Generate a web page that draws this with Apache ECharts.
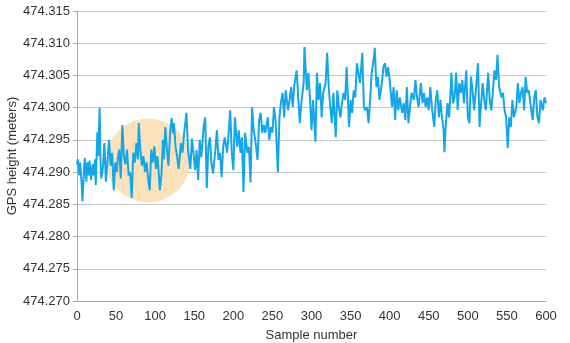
<!DOCTYPE html>
<html>
<head>
<meta charset="utf-8">
<script src="https://cdn.jsdelivr.net/npm/echarts@6/dist/echarts.min.js"></script>
<style>
html,body{margin:0;padding:0;background:#fff;}
#chart{width:570px;height:343px;}
</style>
</head>
<body>
<div id="chart"></div>
<script>
// Sample numbers (x)
const samples = [
0,1,3,4,6,7,9,10,12,13,15,16,18,20,21,23,24,26,27,29,30,31,33,35,37,39,41,43,45,47,49,51,52,54,56,58,60,62,64,66,68,70,72,74,76,78,79,81,83,85,87,89,91,93,95,97,99,101,103,106,108,110,111,113,115,117,119,121,123,124,126,128,130,131,133,135,137,140,142,144,145,146,147,149,
151,153,155,157,159,162,164,166,168,170,172,174,177,179,181,183,185,187,189,192,194,196,198,200,202,205,207,209,211,213,215,218,220,222,224,226,228,231,233,235,237,239,241,244,246,248,250,252,254,257,259,261,263,265,267,270,272,274,276,278,281,283,285,287,290,291,294,296,298,
300,302,305,307,309,311,313,315,318,320,322,324,326,328,331,333,335,337,339,341,343,345,348,350,352,354,356,358,360,362,365,367,369,371,373,375,377,380,381,383,385,387,390,392,394,396,398,
400,403,405,407,409,411,413,416,418,420,422,424,426,428,431,433,435,437,439,440,442,444,446,448,450,452,454,457,459,461,463,465,467,469,470,472,474,476,478,479,481,483,485,487,489,491,493,495,498,
500,502,504,506,508,511,513,515,517,519,521,523,526,528,530,532,534,536,538,540,543,545,547,549,551,553,555,557,559,562,564,566,568,570,572,574,576,578,580,583,585,587,589,591,593,596,598,600
];
// GPS heights (meters)
const heights = [
474.2912,474.2920,474.2895,474.2915,474.2880,474.2855,474.2905,474.2922,474.2885,474.2915,474.2895,474.2918,474.2888,474.2912,474.2895,474.2920,474.2880,474.2962,474.2925,474.3000,474.2920,474.2890,474.2905,474.2945,474.2885,474.2882,474.2950,474.2910,474.2930,474.2872,474.2915,474.2900,474.2920,474.2935,474.2890,474.2973,474.2925,474.2912,474.2935,474.2895,474.2900,474.2860,474.2930,474.2915,474.2945,474.2920,474.2976,474.2935,474.2910,474.2925,474.2900,474.2915,474.2890,474.2872,474.2935,474.2915,474.2940,474.2905,474.2925,474.2872,474.2895,474.2950,474.2920,474.2970,474.2935,474.2910,474.2958,474.2984,474.2960,474.2976,474.2940,474.2925,474.2905,474.2903,474.2945,474.2930,474.2960,474.2992,474.2935,474.2914,474.2905,474.2906,474.2952,474.2930,
474.2903,474.2934,474.2888,474.2950,474.2923,474.2970,474.2985,474.2875,474.2939,474.2954,474.2914,474.2898,474.2934,474.2965,474.2919,474.2930,474.2892,474.2939,474.2954,474.2930,474.2961,474.2996,474.2930,474.2903,474.2985,474.2939,474.2965,474.2930,474.2954,474.2869,474.2961,474.2930,474.2939,474.2884,474.3001,474.2965,474.2950,474.2919,474.2981,474.2992,474.2961,474.2973,474.2961,474.2985,474.2950,474.2970,474.2961,474.3001,474.2981,474.2900,474.2985,474.3009,474.3023,474.2985,474.3027,474.2996,474.3012,474.3032,474.3001,474.3035,474.3058,474.3016,474.2976,474.3007,474.3040,474.3094,474.3027,474.3054,474.3016,
474.2965,474.3012,474.2947,474.3054,474.3012,474.3038,474.2985,474.3023,474.3038,474.3085,474.3032,474.3001,474.2976,474.3023,474.2954,474.3027,474.3001,474.2985,474.3007,474.3023,474.3012,474.3063,474.2970,474.3012,474.2992,474.3027,474.3016,474.3069,474.3054,474.3038,474.3085,474.3001,474.2996,474.3001,474.2976,474.3012,474.3054,474.3079,474.3093,474.3032,474.3048,474.3012,474.3038,474.3063,474.3069,474.3048,474.3063,
474.3043,474.3001,474.3032,474.2981,474.3027,474.2996,474.3016,474.2992,474.3007,474.2981,474.3032,474.2976,474.3001,474.3023,474.3012,474.3043,474.3016,474.3001,474.3027,474.3038,474.3007,474.3023,474.3001,474.3016,474.2996,474.3032,474.3001,474.2970,474.3012,474.3027,474.2985,474.3012,474.2985,474.2965,474.2931,474.2976,474.3007,474.2985,474.3027,474.3054,474.3007,474.3016,474.3054,474.2996,474.3038,474.3023,474.3043,474.3007,474.3058,
474.2985,474.2976,474.3048,474.3027,474.2996,474.3038,474.3069,474.2970,474.3007,474.3038,474.3012,474.2996,474.3054,474.3012,474.2996,474.3023,474.3058,474.3043,474.3082,474.3032,474.3016,474.3023,474.2996,474.2985,474.2937,474.2985,474.2970,474.3012,474.2985,474.3001,474.3038,474.3007,474.3023,474.3032,474.2996,474.3048,474.3023,474.3027,474.3007,474.2981,474.3016,474.3027,474.2985,474.2976,474.3012,474.2996,474.3016,474.3007
];
// Highlight circle centre [sample, height]
const circleCenter = [91, 474.2918];
const yTicks = { min: 474.270, max: 474.315, step: 0.005 };
const xTicks = { min: 0, max: 600, step: 50 };

const chart = echarts.init(document.getElementById('chart'), null, {renderer: 'canvas'});
const font = 'Liberation Sans, Arial, Helvetica, sans-serif';
chart.setOption({
  animation: false,
  grid: { left: 77, right: 24, top: 11, bottom: 42, containLabel: false, outerBoundsMode: 'none' },
  xAxis: {
    type: 'value', min: xTicks.min, max: xTicks.max, interval: xTicks.step,
    name: 'Sample number', nameLocation: 'middle', nameGap: 28, nameMoveOverlap: false,
    nameTextStyle: { fontFamily: font, fontSize: 13, color: '#333' },
    axisLine: { lineStyle: { color: '#aaa' } },
    axisTick: { show: false },
    axisLabel: { fontFamily: font, fontSize: 13, color: '#333', margin: 9 },
    splitLine: { show: false }
  },
  yAxis: {
    type: 'value', min: yTicks.min, max: yTicks.max, interval: yTicks.step,
    name: 'GPS height (meters)', nameLocation: 'middle', nameGap: 58, nameMoveOverlap: false,
    nameTextStyle: { fontFamily: font, fontSize: 13, color: '#333' },
    axisLine: { show: true, lineStyle: { color: '#aaa' } },
    axisTick: { show: true, length: 4, lineStyle: { color: '#aaa' } },
    axisLabel: { fontFamily: font, fontSize: 13, color: '#333', margin: 7,
      formatter: v => v.toFixed(3) },
    splitLine: { show: true, lineStyle: { color: '#c8c8c8', width: 1 } }
  },
  series: [
    {
      type: 'scatter', silent: true, z: 1,
      symbolSize: 84,
      itemStyle: { color: '#fbe2bb', opacity: 1 },
      data: [circleCenter]
    },
    {
      type: 'line', z: 2, showSymbol: false, symbol: 'none',
      lineStyle: { color: '#14a6e8', width: 2 },
      data: samples.map((s, i) => [s, heights[i]])
    }
  ]
});
</script>
</body>
</html>
